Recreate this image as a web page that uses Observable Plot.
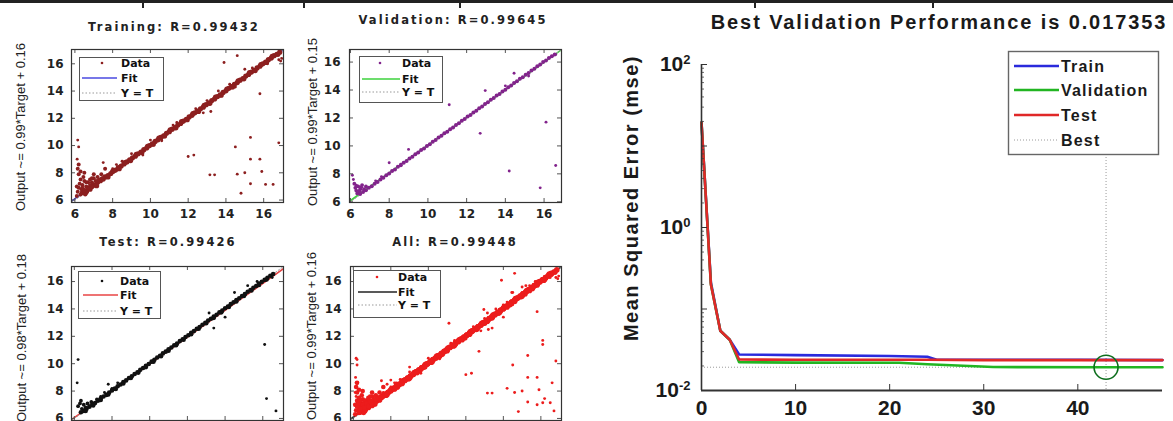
<!DOCTYPE html>
<html><head><meta charset="utf-8">
<script src="https://cdn.jsdelivr.net/npm/d3@7"></script>
<script src="https://cdn.jsdelivr.net/npm/@observablehq/plot@0.6"></script>
<style>
html,body{margin:0;padding:0;background:#fff;}
#root{position:relative;width:1173px;height:421px;overflow:hidden;background:#fff;font-family:"Liberation Sans",Arial,sans-serif;}
.abs{position:absolute;}
.lbl{position:absolute;white-space:nowrap;transform:translate(-50%,-50%);line-height:1;}
.vlbl{position:absolute;white-space:nowrap;transform:translate(-50%,-50%) rotate(-90deg);line-height:1;}
</style></head><body><div id="root"></div><script>
// ---------------- DATA ----------------
const regTicks = [6, 8, 10, 12, 14, 16];

const trainBand = [[6.4,6.55],[6.5,6.7],[6.6,6.62],[6.7,6.85],[6.8,6.8],[6.9,7.0],[7.0,7.12],[7.1,7.1],[7.2,7.3],[7.35,7.42],[7.5,7.55],[7.6,7.7],[7.75,7.8],[7.9,7.95],[8.0,8.1],[8.15,8.2],[8.3,8.38],[8.45,8.5],[8.6,8.65],[8.75,8.8],[8.9,8.95],[9.05,9.1],[9.2,9.22],[9.35,9.4],[9.5,9.52],[9.65,9.7],[9.8,9.82],[9.95,10.0],[10.1,10.12],[10.25,10.3],[10.4,10.42],[10.55,10.6],[10.7,10.72],[10.85,10.9],[11.0,11.02],[11.15,11.2],[11.3,11.32],[11.45,11.5],[11.6,11.62],[11.75,11.8],[11.9,11.92],[12.05,12.1],[12.2,12.22],[12.35,12.4],[12.5,12.52],[12.65,12.7],[12.8,12.82],[12.95,13.0],[13.1,13.12],[13.25,13.3],[13.4,13.42],[13.55,13.6],[13.7,13.72],[13.85,13.9],[14.0,14.02],[14.15,14.2],[14.3,14.32],[14.45,14.5],[14.6,14.62],[14.75,14.8],[14.9,14.92],[15.05,15.1],[15.2,15.22],[15.35,15.4],[15.5,15.52],[15.65,15.7],[15.8,15.82],[15.95,16.0],[16.1,16.12],[16.25,16.3],[16.4,16.42],[16.55,16.6],[16.7,16.7],[16.85,16.85],
  [6.55,6.5],[6.85,6.95],[7.15,7.05],[7.45,7.55],[7.75,7.7],[8.05,8.15],[8.35,8.3],[8.65,8.75],[8.95,8.9],[9.25,9.35],[9.55,9.5],[9.85,9.95],[10.15,10.1],[10.45,10.55],[10.75,10.7],[11.05,11.15],[11.35,11.3],[11.65,11.75],[11.95,11.9],[12.25,12.35],[12.55,12.5],[12.85,12.95],[13.15,13.1],[13.45,13.55],[13.75,13.7],[14.05,14.15],[14.35,14.3],[14.65,14.75],[14.95,14.9],[15.25,15.35],[15.55,15.5],[15.85,15.95],[16.15,16.1],[16.45,16.55],[16.75,16.7]];
const trainCluster = [[6.1,6.3],[6.15,6.6],[6.2,6.9],[6.25,7.2],[6.3,7.5],[6.2,7.9],[6.15,8.3],[6.2,8.6],[6.35,6.8],[6.4,7.1],[6.5,7.4],[6.45,7.7],[6.6,7.0],[6.7,7.3],[6.8,7.5],[6.9,7.3],[7.0,7.6],[7.1,7.4],[7.2,7.7],[7.3,7.5],[6.55,6.4],[6.3,6.4],[6.65,6.6],[6.75,6.9],[7.4,7.9],[6.1,7.0],[6.3,8.1],[6.5,8.0],[7.6,8.3],[6.4,6.9],[6.6,7.3],[6.9,7.6],[7.2,7.4],[6.5,6.7],[7.0,7.9],[6.8,7.1]];
const trainOutliers = [[6.12,9.0],[6.15,10.4],[6.2,9.9],[7.5,8.75],[8.0,8.3],[8.2,8.6],[9.0,9.4],[10.0,10.4],[10.6,10.35],[11.2,11.5],[12.4,12.7],[13.0,13.3],[14.2,14.5],[15.4,15.7],[9.6,9.3],[8.5,8.85],
  [13.9,16.1],[14.6,16.6],[16.8,16.3],[16.95,16.4],[16.9,16.2],[13.2,12.5],[15.8,13.8],[15.3,10.6],[16.8,10.2],[14.5,9.9],[12.0,9.2],[12.3,9.3],[15.3,9.0],[15.8,9.0],[13.15,7.85],[13.4,7.85],[14.6,7.9],[15.0,8.0],[15.9,8.1],[15.3,7.2],[14.8,6.5],[16.1,7.15],[16.5,7.15],[10.6,10.5],[14.5,14.3],[12.8,12.4],[15.0,15.6],[13.6,14.0],[11.4,11.7],[16.2,16.0]];

const valBand = [[6.5,6.55],[6.65,6.7],[6.8,6.82],[6.95,7.0],[7.1,7.12],[7.25,7.3],[7.4,7.42],[7.55,7.6],[7.7,7.72],[7.85,7.9],[8.0,8.02],[8.15,8.2],[8.3,8.32],[8.45,8.5],[8.6,8.62],[8.75,8.8],[8.9,8.92],[9.05,9.1],[9.2,9.22],[9.35,9.4],[9.5,9.52],[9.65,9.7],[9.8,9.82],[9.95,10.0],[10.1,10.12],[10.25,10.3],[10.4,10.42],[10.55,10.6],[10.7,10.72],[10.85,10.9],[11.0,11.02],[11.15,11.2],[11.3,11.32],[11.45,11.5],[11.6,11.62],[11.75,11.8],[11.9,11.92],[12.05,12.1],[12.2,12.22],[12.35,12.4],[12.5,12.52],[12.65,12.7],[12.8,12.82],[12.95,13.0],[13.1,13.12],[13.25,13.3],[13.4,13.42],[13.55,13.6],[13.7,13.72],[13.85,13.9],[14.0,14.02],[14.15,14.2],[14.3,14.32],[14.45,14.5],[14.6,14.62],[14.75,14.8],[14.9,14.92],[15.05,15.1],[15.2,15.22],[15.35,15.4],[15.5,15.52],[15.65,15.7],[15.8,15.82],[15.95,16.0],[16.1,16.12],[16.25,16.3],[16.4,16.42],[16.55,16.55]];
const valCluster = [[6.2,7.3],[6.25,7.0],[6.3,6.8],[6.4,7.1],[6.5,6.9],[6.6,7.2],[6.35,6.6],[6.7,6.9],[6.45,6.75],[6.8,7.1],[6.55,7.05],[6.3,7.15]];
const valOutliers = [[6.1,7.9],[6.15,7.6],[7.3,7.5],[7.6,7.8],[11.1,12.95],[12.96,13.96],[14.45,15.2],[16.1,11.7],[12.7,10.9],[9.0,9.75],[8.0,8.8],[8.6,8.7],[14.2,8.2],[15.8,7.0],[16.6,8.6],[16.6,16.55],[14.0,14.3],[15.2,15.0]];

const testBand = [[6.35,6.45],[6.5,6.55],[6.65,6.7],[6.8,6.85],[6.95,7.0],[7.1,7.12],[7.25,7.3],[7.4,7.45],[7.55,7.6],[7.7,7.72],[7.85,7.9],[8.0,8.05],[8.15,8.18],[8.3,8.35],[8.45,8.48],[8.6,8.65],[8.75,8.78],[8.9,8.95],[9.05,9.08],[9.2,9.25],[9.35,9.38],[9.5,9.55],[9.65,9.68],[9.8,9.85],[9.95,9.98],[10.1,10.15],[10.25,10.28],[10.4,10.45],[10.55,10.58],[10.7,10.75],[10.85,10.88],[11.0,11.05],[11.15,11.18],[11.3,11.35],[11.45,11.48],[11.6,11.65],[11.75,11.78],[11.9,11.95],[12.05,12.08],[12.2,12.25],[12.35,12.38],[12.5,12.55],[12.65,12.68],[12.8,12.85],[12.95,12.98],[13.1,13.15],[13.25,13.28],[13.4,13.45],[13.55,13.58],[13.7,13.75],[13.85,13.88],[14.0,14.05],[14.15,14.18],[14.3,14.35],[14.45,14.48],[14.6,14.65],[14.75,14.78],[14.9,14.95],[15.05,15.08],[15.2,15.25],[15.35,15.38],[15.5,15.55],[15.65,15.68],[15.8,15.85],[15.95,15.98],[16.1,16.12],[16.25,16.28],[16.4,16.42],[16.55,16.55],
  [6.6,6.55],[7.0,6.95],[7.4,7.35],[7.8,7.75],[8.2,8.15],[8.6,8.55],[9.0,8.95],[9.4,9.35],[9.8,9.75],[10.2,10.15],[10.6,10.55],[11.0,10.95],[11.4,11.35],[11.8,11.75],[12.2,12.15],[12.6,12.55],[13.0,12.95],[13.4,13.35],[13.8,13.75],[14.2,14.15],[14.6,14.55],[15.0,14.95],[15.4,15.35],[15.8,15.75],[16.2,16.15]];
const testCluster = [[6.2,6.9],[6.3,7.1],[6.4,6.7],[6.5,7.0],[6.6,6.8],[6.7,7.1],[6.8,6.9],[6.35,7.3],[6.9,7.2],[7.0,7.0],[7.2,7.4]];
const testOutliers = [[7.4,7.6],[7.6,7.9],[15.2,15.7],[14.5,15.2],[13.4,12.6],[14.0,13.4],[13.15,13.7],[16.1,11.4],[16.2,7.45],[16.7,6.55],[6.2,10.3],[6.15,8.6],[7.8,8.5],[8.0,8.2],[15.7,16.0],[16.5,16.3],[8.3,8.6]];

const fits = {training: [0.99, 0.16], validation: [0.99, 0.15], test: [0.98, 0.18], all: [0.99, 0.16]};
const rValues = {training: "0.99432", validation: "0.99645", test: "0.99426", all: "0.99448"};

const trainEpochs = [0, 1, 2, 3, 4, 10, 20, 24, 25, 40, 49];
const trainMSE    = [19.4, 0.211, 0.054, 0.042, 0.0277, 0.0272, 0.0265, 0.026, 0.0238, 0.0238, 0.0236];
const valEpochs   = [0, 1, 2, 3, 4, 10, 21, 24, 31, 43, 49];
const valMSE      = [19.4, 0.2, 0.054, 0.042, 0.0222, 0.022, 0.0219, 0.021, 0.0194, 0.0193, 0.0193];
const testEpochs  = [0, 1, 2, 3, 4, 10, 20, 24, 30, 40, 49];
const testMSE     = [19.4, 0.2, 0.054, 0.042, 0.024, 0.0238, 0.0238, 0.0238, 0.0236, 0.0236, 0.0236];
const bestEpoch = 43, bestPerfLabel = "0.017353", maxEpoch = 49;
const perfXTicks = [0, 10, 20, 30, 40];
const perfYTicks = [0.01, 1, 100];
const decades = [0.01, 0.1, 1, 10, 100];

// ---------------- HELPERS ----------------
const root = document.getElementById("root");
const NS = "http://www.w3.org/2000/svg";
function place(el, left, top, w) {
  const d = document.createElement("div");
  d.className = "abs"; d.style.left = left + "px"; d.style.top = top + "px"; d.style.width = w + "px";
  d.appendChild(el); root.appendChild(d); return d;
}
function label(str, cx, cy, css, vertical) {
  const d = document.createElement("div");
  d.className = vertical ? "vlbl" : "lbl";
  d.textContent = str; d.style.left = cx + "px"; d.style.top = cy + "px";
  Object.assign(d.style, css); root.appendChild(d);
}
function legend(o) {
  const s = document.createElementNS(NS, "svg");
  s.setAttribute("width", o.w + 2); s.setAttribute("height", o.h + 2);
  s.style.position = "absolute"; s.style.left = o.x + "px"; s.style.top = o.y + "px"; s.style.overflow = "visible";
  const r = document.createElementNS(NS, "rect");
  r.setAttribute("x", 0.5); r.setAttribute("y", 0.5); r.setAttribute("width", o.w); r.setAttribute("height", o.h);
  r.setAttribute("fill", "#fff"); r.setAttribute("stroke", o.border || "#444"); r.setAttribute("stroke-width", o.bw || 1);
  s.appendChild(r);
  o.rows.forEach(row => {
    if (row.kind === "dot") {
      const c = document.createElementNS(NS, "circle");
      c.setAttribute("cx", o.dotX); c.setAttribute("cy", row.y); c.setAttribute("r", 1.3); c.setAttribute("fill", row.color);
      s.appendChild(c);
    } else {
      const l = document.createElementNS(NS, "line");
      l.setAttribute("x1", o.l0); l.setAttribute("x2", o.l1); l.setAttribute("y1", row.y); l.setAttribute("y2", row.y);
      l.setAttribute("stroke", row.color); l.setAttribute("stroke-width", row.width || 1.5);
      if (row.dash) l.setAttribute("stroke-dasharray", row.dash);
      s.appendChild(l);
    }
    const t = document.createElementNS(NS, "text");
    t.setAttribute("x", o.tx); t.setAttribute("y", row.y); t.setAttribute("dominant-baseline", "central");
    t.setAttribute("style", o.font); t.textContent = row.label; s.appendChild(t);
  });
  root.appendChild(s);
}

function regPanel(o) {
  const [d0, d1] = o.domain;
  const W = o.svg.w, H = o.svg.h;
  const ml = o.frame.l - o.svg.x, mr = o.svg.x + W - o.frame.r, mt = o.frame.t - o.svg.y, mb = o.svg.y + H - o.frame.b;
  const tx = 4 * (d1 - d0) / (o.frame.r - o.frame.l);
  const ty = 4 * (d1 - d0) / (o.frame.b - o.frame.t);
  const fitPts = [d0, d1].map(x => ({x, y: o.fit[0] * x + o.fit[1]}));
  const idPts = [d0, d1].map(x => ({x, y: x}));
  const svg = Plot.plot({
    width: W, height: H, marginLeft: ml, marginRight: mr, marginTop: mt, marginBottom: mb,
    x: {domain: o.domain, label: null}, y: {domain: o.domain, label: null},
    style: {fontFamily: "'DejaVu Sans', sans-serif", fontSize: "12px", fontWeight: "bold", background: "transparent", color: "#222", overflow: "visible"},
    marks: [
      Plot.line(fitPts, {x: "x", y: "y", stroke: o.fitColor, strokeWidth: 1.6, clip: true}),
      Plot.line(idPts, {x: "x", y: "y", stroke: "#999", strokeWidth: 1, strokeDasharray: "1.5,2", clip: true}),
      Plot.dot(o.band, {x: d => d[0], y: d => d[1], r: o.rBand, fill: o.color, stroke: "none", clip: true}),
      Plot.dot(o.cluster, {x: d => d[0], y: d => d[1], r: o.rCluster, fill: o.color, stroke: "none", clip: true}),
      Plot.dot(o.other, {x: d => d[0], y: d => d[1], r: 1.45, fill: o.color, stroke: "none", clip: true}),
      Plot.ruleY(regTicks, {x1: d0, x2: d0 + tx, stroke: "#555"}),
      Plot.ruleY(regTicks, {x1: d1 - tx, x2: d1, stroke: "#555"}),
      Plot.ruleX(regTicks, {y1: d0, y2: d0 + ty, stroke: "#555"}),
      Plot.ruleX(regTicks, {y1: d1 - ty, y2: d1, stroke: "#555"}),
      Plot.frame({stroke: "#333", strokeWidth: 1.2}),
      Plot.axisX(regTicks, {tickSize: 0, tickPadding: 7, label: null}),
      Plot.axisY(regTicks, {tickSize: 0, tickPadding: o.ypad, label: null})
    ]
  });
  place(svg, o.svg.x, o.svg.y, W);
  const tfont = {fontFamily: "'DejaVu Sans', sans-serif", fontWeight: "bold", fontSize: "11.5px", letterSpacing: "2.1px", color: "#222"};
  label(o.title, o.titleX, o.titleY, tfont);
  label(o.ylabel, o.ylabX, o.ylabY, {fontFamily: "'Liberation Sans', Arial, sans-serif", fontSize: "13px", color: "#222"}, true);
  const lf = "font-family:'DejaVu Sans',sans-serif;font-weight:bold;font-size:11px;fill:#111";
  legend({x: o.leg.x, y: o.leg.y, w: o.leg.w, h: o.leg.h, dotX: o.leg.dot, l0: o.leg.l0, l1: o.leg.l1, tx: o.leg.tx, font: lf, border: "#555",
    rows: [
      {kind: "dot", y: o.leg.rows[0], color: o.color, label: "Data"},
      {kind: "line", y: o.leg.rows[1], color: o.fitColor, label: "Fit", width: 1.6},
      {kind: "line", y: o.leg.rows[2], color: "#999", label: "Y = T", width: 1, dash: "1.5,2"}
    ]});
}

// ---------------- TOP DECORATION ----------------
(function() {
  const line = document.createElement("div");
  Object.assign(line.style, {position: "absolute", left: "0px", top: "0px", width: "1173px", height: "3px", background: "#222"});
  root.appendChild(line);
  [142, 303, 459, 754, 932].forEach(x => {
    const t = document.createElement("div");
    Object.assign(t.style, {position: "absolute", left: x + "px", top: "0px", width: "2px", height: "8px", background: "#222"});
    root.appendChild(t);
  });
})();

// ---------------- REGRESSION PANELS ----------------
regPanel({band: trainBand, cluster: trainCluster, other: trainOutliers, rBand: 2.6, rCluster: 2.0,
  color: "#8c1f1f", fitColor: "#4a4ae0", fit: fits.training, domain: [5.82, 17.05],
  svg: {x: 0, y: 0, w: 290, h: 228}, frame: {l: 71, r: 283, t: 49, b: 202}, ypad: 8,
  title: "Training: R=" + rValues.training, titleX: 174, titleY: 28,
  ylabel: "Output ~= " + fits.training[0] + "*Target + " + fits.training[1], ylabX: 20, ylabY: 127,
  leg: {x: 79, y: 57, w: 84, h: 43, dot: 23, l0: 3, l1: 38, tx: 42, rows: [6, 21, 36]}});

regPanel({band: valBand, cluster: valCluster, other: valOutliers, rBand: 2.0, rCluster: 1.9,
  color: "#82238c", fitColor: "#3cd23c", fit: fits.validation, domain: [5.95, 16.9],
  svg: {x: 290, y: 0, w: 290, h: 228}, frame: {l: 349, r: 561, t: 49, b: 202}, ypad: 9,
  title: "Validation: R=" + rValues.validation, titleX: 453, titleY: 21,
  ylabel: "Output ~= " + fits.validation[0] + "*Target + " + fits.validation[1], ylabX: 312, ylabY: 122,
  leg: {x: 359, y: 56, w: 83, h: 46, dot: 21, l0: 3, l1: 41, tx: 43, rows: [7, 23, 36]}});

regPanel({band: testBand, cluster: testCluster, other: testOutliers, rBand: 2.3, rCluster: 1.9,
  color: "#111111", fitColor: "#e84545", fit: fits.test, domain: [5.85, 17.1],
  svg: {x: 0, y: 228, w: 290, h: 230}, frame: {l: 71, r: 283, t: 266, b: 420}, ypad: 8,
  title: "Test: R=" + rValues.test, titleX: 168, titleY: 243,
  ylabel: "Output ~= " + fits.test[0] + "*Target + " + fits.test[1], ylabX: 21, ylabY: 338,
  leg: {x: 78, y: 271, w: 82, h: 47, dot: 24, l0: 5, l1: 40, tx: 42, rows: [10, 24, 40]}});

regPanel({band: [...trainBand, ...valBand, ...testBand], cluster: [...trainCluster, ...valCluster, ...testCluster],
  other: [...trainOutliers, ...valOutliers, ...testOutliers], rBand: 2.8, rCluster: 2.3,
  color: "#ec1c1c", fitColor: "#222222", fit: fits.all, domain: [5.85, 17.1],
  svg: {x: 290, y: 228, w: 290, h: 230}, frame: {l: 350, r: 561, t: 266, b: 420}, ypad: 9,
  title: "All: R=" + rValues.all, titleX: 455, titleY: 243,
  ylabel: "Output ~= " + fits.all[0] + "*Target + " + fits.all[1], ylabX: 311, ylabY: 336,
  leg: {x: 353, y: 270, w: 87, h: 47, dot: 24, l0: 5, l1: 44, tx: 45, rows: [7, 22, 35]}});

// ---------------- PERFORMANCE PANEL ----------------
(function() {
  const toRows = (ep, v) => ep.map((e, i) => ({e, v: v[i]}));
  const pxPerX = (1162 - 701) / maxEpoch;
  const majLen = 6 / pxPerX, minLen = 3 / pxPerX;
  const minors = decades.slice(0, -1).flatMap(d => [2, 3, 4, 5, 6, 7, 8, 9].map(m => d * m));
  const xTickTop = 0.01 * Math.pow(10, 6 / 81.5);
  const bestVal = valMSE[valEpochs.indexOf(bestEpoch)];
  const svg = Plot.plot({
    width: 583, height: 421, marginLeft: 111, marginRight: 11, marginTop: 64, marginBottom: 31,
    x: {domain: [0, maxEpoch], label: null},
    y: {type: "log", domain: [0.01, 100], label: null},
    style: {fontFamily: "'Liberation Sans', Arial, sans-serif", fontSize: "21px", fontWeight: "bold", background: "transparent", color: "#1a1a1a", overflow: "visible"},
    marks: [
      Plot.ruleX([bestEpoch], {stroke: "#9a9a9a", strokeWidth: 1, strokeDasharray: "1,2"}),
      Plot.ruleY([bestVal], {x1: 0, x2: bestEpoch, stroke: "#9a9a9a", strokeWidth: 1, strokeDasharray: "1,2"}),
      Plot.line(toRows(trainEpochs, trainMSE), {x: "e", y: "v", stroke: "#2a2adc", strokeWidth: 2.6}),
      Plot.line(toRows(valEpochs, valMSE), {x: "e", y: "v", stroke: "#22b522", strokeWidth: 2.6}),
      Plot.line(toRows(testEpochs, testMSE), {x: "e", y: "v", stroke: "#e02828", strokeWidth: 2.6}),
      Plot.dot([{e: bestEpoch, v: bestVal}], {x: "e", y: "v", r: 12, stroke: "#0d6e1d", strokeWidth: 1.6, fill: "none"}),
      Plot.ruleY(decades, {x1: 0, x2: majLen, stroke: "#333", strokeWidth: 1}),
      Plot.ruleY(minors, {x1: 0, x2: minLen, stroke: "#444", strokeWidth: 0.8}),
      Plot.ruleX(perfXTicks, {y1: 0.01, y2: xTickTop, stroke: "#333", strokeWidth: 1}),
      Plot.ruleX([0], {stroke: "#333", strokeWidth: 1.6}),
      Plot.ruleY([0.01], {stroke: "#333", strokeWidth: 2}),
      Plot.axisX(perfXTicks, {tickSize: 0, tickPadding: 10, label: null}),
      Plot.axisY(perfYTicks, {tickSize: 0, tickPadding: 11, label: null, tickFormat: d => "10^" + Math.round(Math.log10(d))})
    ]
  });
  svg.querySelectorAll("text").forEach(t => {
    const s = t.textContent;
    if (s.indexOf("^") >= 0) {
      const [b, e] = s.split("^");
      t.textContent = "";
      const t1 = document.createElementNS(NS, "tspan"); t1.textContent = b; t.appendChild(t1);
      const t2 = document.createElementNS(NS, "tspan"); t2.textContent = e;
      t2.setAttribute("dy", "-0.55em"); t2.setAttribute("font-size", "13px"); t.appendChild(t2);
    }
  });
  place(svg, 590, 0, 583);
  label("Best Validation Performance is " + bestPerfLabel, 939, 22, {fontWeight: "bold", fontSize: "20px", letterSpacing: "1.9px", color: "#1a1a1a"});
  label("Mean Squared Error  (mse)", 631, 198, {fontWeight: "bold", fontSize: "20px", letterSpacing: "1.5px", color: "#1a1a1a"}, true);
  label(maxEpoch + " Epochs", 906, 429, {fontWeight: "bold", fontSize: "20px", color: "#1a1a1a"});
  const lf = "font-family:'Liberation Sans',Arial,sans-serif;font-weight:bold;font-size:16px;letter-spacing:1.2px;fill:#1a1a1a";
  legend({x: 1008, y: 51, w: 150, h: 103, l0: 6, l1: 51, tx: 53, font: lf, border: "#666", bw: 1.4,
    rows: [
      {kind: "line", y: 15, color: "#2a2adc", label: "Train", width: 2.6},
      {kind: "line", y: 39, color: "#22b522", label: "Validation", width: 2.6},
      {kind: "line", y: 64, color: "#e02828", label: "Test", width: 2.6},
      {kind: "line", y: 89, color: "#9a9a9a", label: "Best", width: 1, dash: "1,2"}
    ]});
})();
</script></body></html>
